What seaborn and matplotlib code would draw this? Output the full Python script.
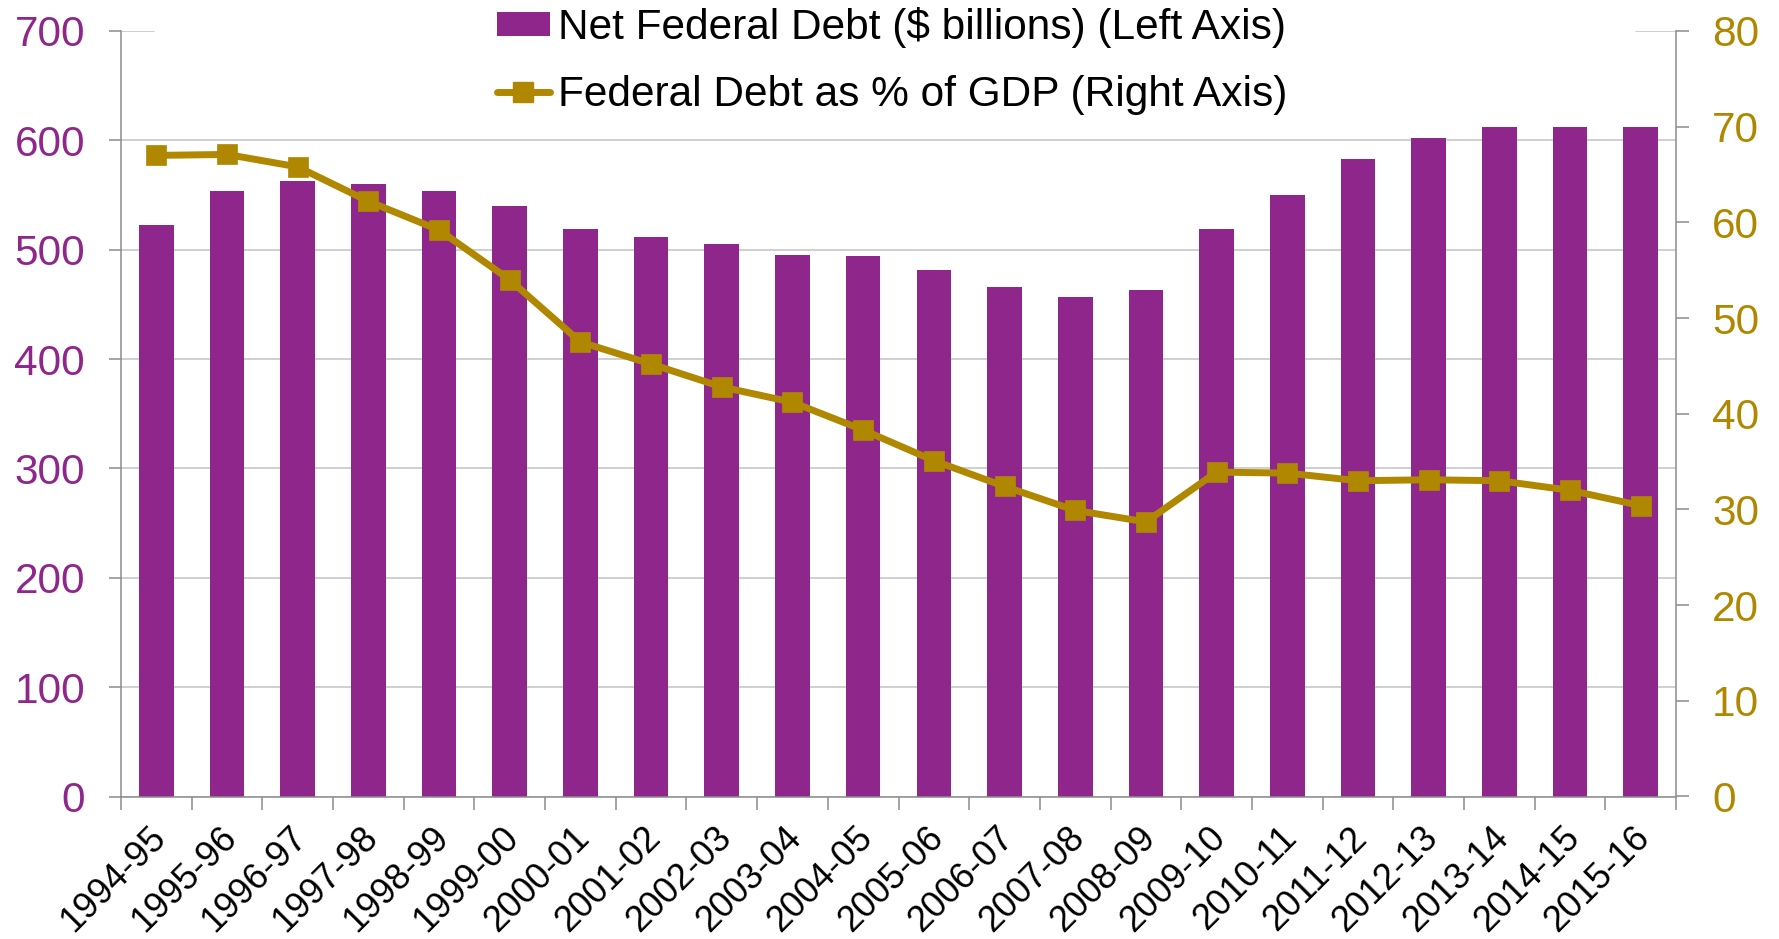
import numpy as np
import pandas as pd
import matplotlib
matplotlib.use("Agg")
import matplotlib.pyplot as plt
import matplotlib.transforms as mtransforms
from matplotlib.patches import Patch
from matplotlib.lines import Line2D
import seaborn as sns

# ---------------- data ----------------
years = ["1994-95", "1995-96", "1996-97", "1997-98", "1998-99", "1999-00",
         "2000-01", "2001-02", "2002-03", "2003-04", "2004-05", "2005-06",
         "2006-07", "2007-08", "2008-09", "2009-10", "2010-11", "2011-12",
         "2012-13", "2013-14", "2014-15", "2015-16"]
net_debt = [523, 554, 563, 560, 554, 540, 519, 512, 505, 495, 494, 481,
            466, 457, 463, 519, 550, 583, 602, 612, 612, 612]
debt_pct_gdp = [67.0, 67.1, 65.8, 62.2, 59.2, 54.0, 47.5, 45.2, 42.8, 41.2,
                38.3, 35.1, 32.4, 29.9, 28.7, 33.9, 33.8, 33.0, 33.1, 33.0,
                32.0, 30.4]
left_ticks = [0, 100, 200, 300, 400, 500, 600, 700]
right_ticks = [0, 10, 20, 30, 40, 50, 60, 70, 80]
bar_label = "Net Federal Debt ($ billions) (Left Axis)"
line_label = "Federal Debt as % of GDP (Right Axis)"

PURPLE = "#8E268B"
GOLD = "#B08800"
AXIS_GRAY = "#8C8C8C"
GRID_GRAY = "#CFCFCF"

sns.set_style("white")
plt.rcParams["font.family"] = ["Liberation Sans", "DejaVu Sans"]
plt.rcParams["text.color"] = "black"

df = pd.DataFrame({"year": years, "debt": net_debt, "pct": debt_pct_gdp})
df["pos"] = np.arange(len(df))

W, H = 1779, 939
fig = plt.figure(figsize=(W / 100, H / 100), dpi=100)
ax = fig.add_axes([121 / W, 1 - 796.5 / H, 1555 / W, 765.5 / H])

sns.barplot(data=df, x="year", y="debt", color=PURPLE, saturation=1,
            width=0.49, edgecolor="none", ax=ax, zorder=2)
ax.set_xlim(-0.5, len(years) - 0.5)
ax.set_ylim(0, 700)
ax.set_yticks(left_ticks)
ax.set_xlabel("")
ax.set_ylabel("")

ax2 = ax.twinx()
sns.lineplot(data=df, x="pos", y="pct", color=GOLD, linewidth=5,
             marker="s", markersize=14, markeredgecolor=GOLD,
             markeredgewidth=0.5, ax=ax2, zorder=3)
ax2.set_ylim(0, 80)
ax2.set_yticks(right_ticks)
ax2.set_xlim(-0.5, len(years) - 0.5)
ax2.set_xlabel("")
ax2.set_ylabel("")

# grid lines (left axis), top one only as short stubs like the original
ax.set_axisbelow(True)
ax.yaxis.grid(True, color=GRID_GRAY, linewidth=1.4)
ax.xaxis.grid(False)
ax.get_ygridlines()[-1].set_visible(False)
ax.axhline(left_ticks[-1], xmin=0, xmax=0.021, color=GRID_GRAY, linewidth=1.4, zorder=0)
ax.axhline(left_ticks[-1], xmin=0.974, xmax=1, color=GRID_GRAY, linewidth=1.4, zorder=0)

# spines
for a in (ax, ax2):
    a.spines["top"].set_visible(False)
    for s in ("left", "right", "bottom"):
        a.spines[s].set_color(AXIS_GRAY)
        a.spines[s].set_linewidth(1.1)
ax.spines["right"].set_visible(False)
ax2.spines["left"].set_visible(False)
ax2.spines["bottom"].set_visible(False)

# y ticks
ax.tick_params(axis="y", direction="out", length=9, width=1.1, color=AXIS_GRAY,
               labelsize=30.5, labelcolor=PURPLE, pad=17, left=True)
ax2.tick_params(axis="y", direction="out", length=9, width=1.1, color=AXIS_GRAY,
                labelsize=30.5, labelcolor=GOLD, pad=17, right=True)

# x ticks: marks at category boundaries, labels at centres
ax.set_xticks(np.arange(len(years)))
ax.set_xticklabels(years, fontsize=26, color="black")
ax.set_xticks(np.arange(len(years) + 1) - 0.5, minor=True)
ax.tick_params(axis="x", which="major", length=0, labelsize=26,
               labelcolor="black", pad=26)
ax.tick_params(axis="x", which="minor", direction="out", length=9, width=1.1,
               color=AXIS_GRAY, bottom=True)
ax2.tick_params(axis="x", which="both", length=0, labelbottom=False)
offset = mtransforms.ScaledTranslation(4 / 100, 0, fig.dpi_scale_trans)
for lbl in ax.get_xticklabels():
    lbl.set_rotation(45)
    lbl.set_ha("right")
    lbl.set_va("center")
    lbl.set_rotation_mode("anchor")
    lbl.set_transform(lbl.get_transform() + offset)

# legend
handles = [Patch(facecolor=PURPLE, edgecolor="none", label=bar_label),
           Line2D([0], [0], color=GOLD, linewidth=5, marker="s", markersize=14,
                  markeredgecolor=GOLD, label=line_label)]
leg = fig.legend(handles=handles, loc="upper left",
                 bbox_to_anchor=(497 / W, 1 - 7 / H), frameon=True,
                 facecolor="white", edgecolor="none", framealpha=1,
                 fontsize=30.5, handlelength=1.25, handleheight=0.5,
                 handletextpad=0.2, labelspacing=0.63, borderpad=0,
                 borderaxespad=0, fancybox=False, labelcolor="black")
leg.set_zorder(10)

fig.savefig("out.png", dpi=100)
